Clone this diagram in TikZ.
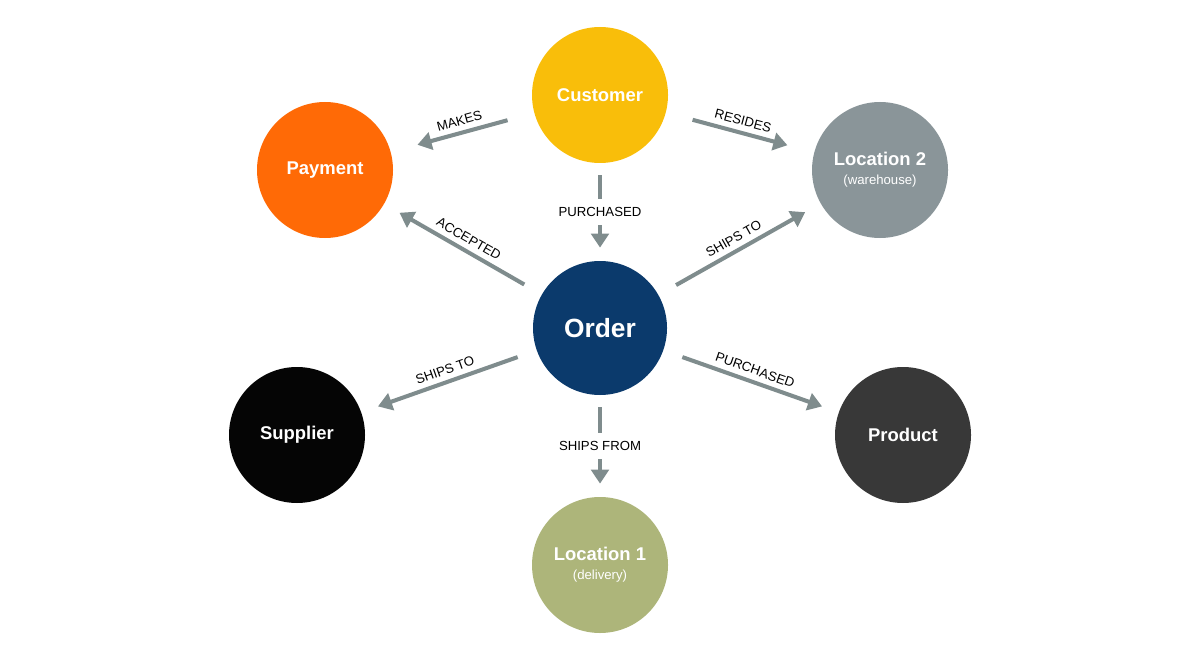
\documentclass[tikz,border=0pt]{standalone}
\usepackage{fontspec}
\setmainfont{Liberation Sans}
\usetikzlibrary{arrows.meta,positioning}
\definecolor{cCust}{HTML}{F9BE0A}
\definecolor{cPay}{HTML}{FF6A06}
\definecolor{cLocB}{HTML}{8A9599}
\definecolor{cOrder}{HTML}{0B3A6C}
\definecolor{cSupp}{HTML}{050505}
\definecolor{cProd}{HTML}{383838}
\definecolor{cLocA}{HTML}{ADB57A}
\definecolor{cArr}{HTML}{7F8C8D}
\tikzset{
  ent/.style={circle, minimum size=2.72cm, inner sep=0pt, text=white,
    font=\fontsize{10.5}{12}\selectfont\bfseries, align=center},
  rel/.style={draw=cArr, line width=2.3pt, -{Triangle[length=8pt,width=10pt]},
    shorten <=0.4cm, shorten >=0.35cm},
  lab/.style={font=\fontsize{7.5}{9}\selectfont, text=black, inner sep=3pt}
}
\begin{document}
\begin{tikzpicture}
    \useasboundingbox (0,0) rectangle (24,13.3);
    % entities
    \node[ent, fill=cCust] (cust) at (12,11.4) {Customer};
    \node[ent, fill=cPay] (pay) at (6.5,9.9) {Payment};
    \node[ent, fill=cLocB] (locb) at (17.6,9.9) {Location 2\\[-1pt]{\fontsize{7.5}{9}\selectfont\mdseries (warehouse)}};
    \node[ent, fill=cOrder, minimum size=2.68cm, font=\fontsize{15}{17}\selectfont\bfseries] (order) at (12,6.74) {Order};
    \node[ent, fill=cSupp] (supp) at (5.94,4.6) {Supplier};
    \node[ent, fill=cProd] (prod) at (18.06,4.6) {Product};
    \node[ent, fill=cLocA] (loca) at (12,2) {Location 1\\[-1pt]{\fontsize{7.5}{9}\selectfont\mdseries (delivery)}};
    % relations
    \draw[rel, shorten <=0.55cm, shorten >=0.55cm] (cust) -- node[lab, sloped, above]{MAKES} (pay);
    \draw[rel, shorten <=0.55cm, shorten >=0.55cm] (cust) -- node[lab, sloped, above]{RESIDES} (locb);
    \draw[rel, shorten <=0.24cm, shorten >=0.26cm] (cust) -- node[lab, fill=white, inner sep=5pt]{PURCHASED} (order);
    \draw[rel] (order) -- node[lab, sloped, above]{ACCEPTED} (pay);
    \draw[rel] (order) -- node[lab, sloped, above]{SHIPS TO} (locb);
    \draw[rel] (order) -- node[lab, sloped, above]{SHIPS TO} (supp);
    \draw[rel] (order) -- node[lab, sloped, above]{PURCHASED} (prod);
    \draw[rel, shorten <=0.24cm, shorten >=0.26cm] (order) -- node[lab, fill=white, inner sep=5pt]{SHIPS FROM} (loca);
\end{tikzpicture}
\end{document}
